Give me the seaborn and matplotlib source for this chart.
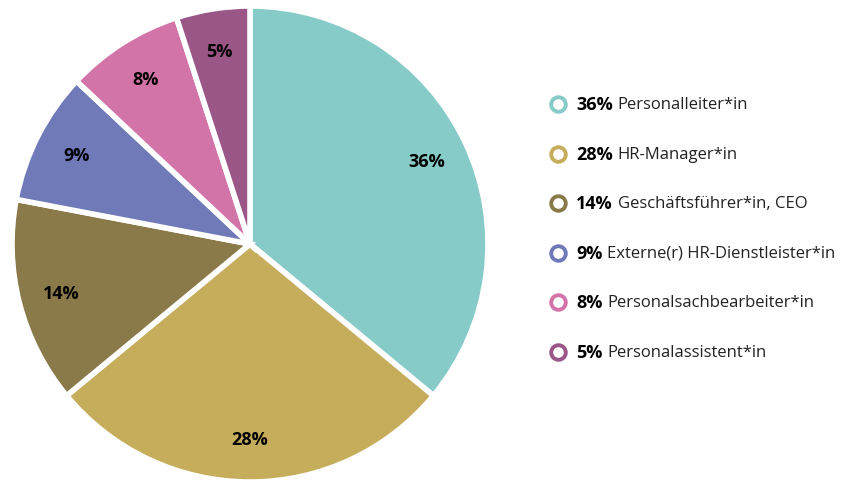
import matplotlib
matplotlib.use("Agg")
import matplotlib.pyplot as plt
import seaborn as sns

# Daten
categories = ["Personalleiter*in", "HR-Manager*in", "Geschäftsführer*in, CEO",
              "Externe(r) HR-Dienstleister*in", "Personalsachbearbeiter*in",
              "Personalassistent*in"]
shares = [36, 28, 14, 9, 8, 5]
colors = ["#86cbc7", "#c5ad5b", "#8a7a49", "#707ab8", "#d374a8", "#9a5687"]

sns.set_theme(style="white")
plt.rcParams['font.family'] = ['Open Sans', 'DejaVu Sans']

fig = plt.figure(figsize=(8.52, 4.81), dpi=100)

# Tortendiagramm
ax = fig.add_axes([12 / 852, -2 / 481, 476 / 852, 476 / 481])
wedges, texts, autotexts = ax.pie(
    shares, colors=colors, startangle=90, counterclock=False,
    autopct=lambda p: f"{p:.0f}%", pctdistance=0.82,
    wedgeprops=dict(edgecolor="white", linewidth=4),
    textprops=dict(fontsize=13, fontweight="bold", color="black"))
ax.set_xlim(-1, 1)
ax.set_ylim(-1, 1)
ax.set_aspect("equal")

# Legende (manuell, Prozent fett + Beschriftung normal)
lax = fig.add_axes([0, 0, 1, 1])
lax.set_xlim(0, 852)
lax.set_ylim(481, 0)
lax.axis("off")

fig.canvas.draw()
renderer = fig.canvas.get_renderer()
y0, dy = 105, 49.6
for i, (cat, val, col) in enumerate(zip(categories, shares, colors)):
    y = y0 + i * dy
    lax.scatter([558], [y], s=110, facecolor="white", edgecolor=col, linewidth=2.8, zorder=3)
    t = lax.text(576, y, f"{val}%", fontsize=13, fontweight="bold",
                 va="center", ha="left", color="black")
    bb = t.get_window_extent(renderer=renderer)
    x_end = bb.x1 + 5
    lax.text(x_end, 481 - y, cat, fontsize=12, va="center", ha="left",
             color="#222222", transform=None)

fig.savefig("out.png", dpi=100)
